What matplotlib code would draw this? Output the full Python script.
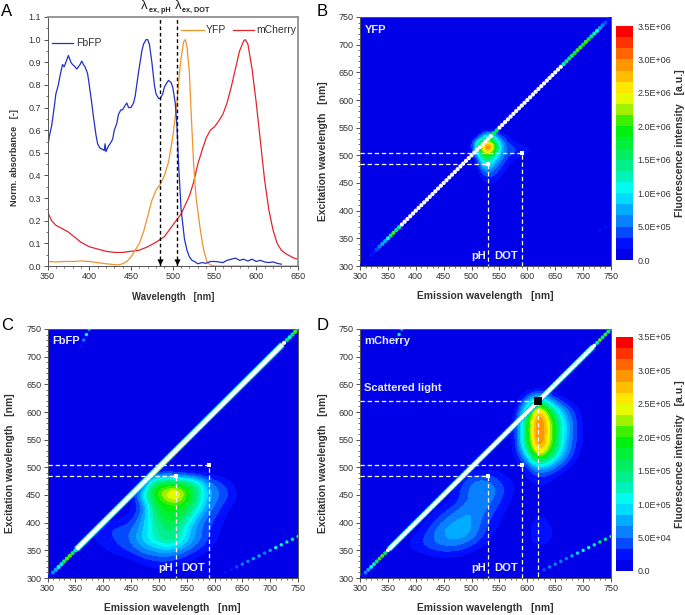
#!/usr/bin/env python
# -*- coding: utf-8 -*-
"""Absorbance spectra (A) and 2D fluorescence maps for YFP, FbFP, mCherry (B-D)."""

import numpy as np
import matplotlib
matplotlib.use('Agg')
import matplotlib.pyplot as plt
from matplotlib.colors import LinearSegmentedColormap, BoundaryNorm
from matplotlib.ticker import MultipleLocator

plt.rcParams.update({
    'font.family': ['Liberation Sans', 'DejaVu Sans'],
    'font.size': 6.5,
    'axes.linewidth': 0.7,
})

W, H = 685, 615
TXT = '#333333'

# Panel A: spectra
fbfp_wl = [350, 352, 355, 358, 360, 363, 365, 368, 370, 372, 375, 378, 380, 383, 385, 387, 389, 391, 393, 395,
           398, 400, 403, 405, 408, 410, 413, 416, 418, 419, 420, 423, 425, 428, 430, 433, 435, 438, 440, 443,
           445, 447, 450, 453, 455, 458, 460, 463, 465, 468, 470, 472, 475, 478, 480, 483, 485, 488, 490, 493,
           495, 498, 500, 503, 505, 507, 510, 514, 517, 520, 523, 526, 530, 535, 540, 545, 550, 555, 560, 565,
           570, 575, 580, 585, 590, 595, 600, 605, 610, 615, 620, 625, 630]
fbfp_abs = [.51, .57, .62, .70, .76, .80, .84, .89, .88, .90, .93, .90, .89, .88, .87, .88, .89, .905, .89, .88,
            .85, .80, .72, .66, .58, .54, .52, .515, .51, .54, .505, .53, .54, .56, .60, .63, .67, .69, .69, .71,
            .72, .70, .70, .72, .75, .83, .88, .95, .98, 1.0, 1.0, .98, .90, .80, .76, .74, .74, .76, .79, .81,
            .82, .81, .79, .72, .62, .45, .25, .12, .07, .04, .025, .02, .01, .015, .012, .02, .02, .018, .015, .025,
            .03, .035, .025, .03, .022, .03, .02, .025, .018, .015, .018, .012, .008]
yfp_wl = [350, 360, 370, 380, 390, 400, 410, 420, 430, 435, 440, 445, 450, 455, 460, 465, 470, 475, 480, 485,
          490, 495, 500, 505, 508, 510, 513, 515, 517, 520, 522, 525, 528, 533, 537, 541, 545, 550, 600, 650]
yfp_abs = [.02, .018, .02, .02, .022, .02, .015, .01, .006, .005, .01, .02, .04, .07, .10, .15, .22, .29, .335, .36,
           .40, .46, .57, .72, .85, .92, .99, 1.0, .97, .85, .68, .45, .30, .16, .07, .02, .005, 0, 0, 0]
mcherry_wl = [350, 355, 360, 365, 370, 375, 380, 385, 390, 395, 400, 410, 420, 430, 440, 450, 460, 470, 480, 490,
              500, 505, 510, 515, 520, 525, 530, 535, 540, 545, 550, 555, 560, 565, 570, 575, 580, 585, 587, 590,
              595, 600, 605, 610, 615, 620, 625, 630, 635, 640, 645, 650]
mcherry_abs = [.24, .20, .18, .17, .16, .15, .135, .12, .105, .095, .085, .075, .065, .06, .06, .065, .07, .085, .105, .13,
               .18, .205, .23, .27, .31, .37, .45, .51, .565, .60, .615, .64, .67, .72, .79, .87, .95, .995, 1.0, .98,
               .87, .72, .55, .38, .25, .16, .10, .07, .055, .045, .035, .03]

# Maps: values in colour bar units (1E+06 for B and C, 1E+05 for D)
yfp_em = [490, 500, 510, 520, 530, 540, 550, 560, 570, 580, 590, 600, 610, 620]
yfp_ex = [420, 430, 440, 450, 460, 470, 480, 490, 500, 510, 520, 530, 540, 550]
yfp_map = [
    [0, 0, 0, 0, 0, 0, 0, 0, 0, 0, 0, 0, 0, 0],
    [0, 0, 0, 0, .03, 0, 0, 0, 0, 0, 0, 0, 0, 0],
    [0, 0, 0, .05, .10, .08, 0, 0, 0, 0, 0, 0, 0, 0],
    [0, 0, 0, .12, .20, .15, .08, 0, 0, 0, 0, 0, 0, 0],
    [0, 0, 0, .25, .35, .30, .20, .08, 0, 0, 0, 0, 0, 0],
    [0, 0, .02, .50, .60, .45, .30, .15, .05, 0, 0, 0, 0, 0],
    [0, 0, .10, .90, 1.0, .70, .40, .25, .12, .05, 0, 0, 0, 0],
    [0, 0, .30, 1.3, 1.5, 1.0, .60, .35, .20, .12, .05, 0, 0, 0],
    [0, .10, .80, 1.8, 2.0, 1.5, .80, .45, .35, .30, .25, .15, .02, 0],
    [0, .20, 1.2, 2.6, 3.4, 2.4, 1.1, .55, .40, .35, .30, .25, .08, 0],
    [0, .20, 1.4, 2.4, 3.0, 2.2, 1.0, .50, .30, .20, .10, .03, 0, 0],
    [0, 0, .30, 1.0, 1.6, 1.2, .60, .30, .15, .03, 0, 0, 0, 0],
    [0, 0, 0, .30, .50, .40, .20, .10, 0, 0, 0, 0, 0, 0],
    [0, 0, 0, 0, 0, 0, 0, 0, 0, 0, 0, 0, 0, 0],
]
fbfp_em = [350, 370, 390, 410, 430, 450, 470, 490, 510, 530, 550, 570, 590, 610, 630, 650]
fbfp_ex = [290, 310, 330, 350, 370, 390, 410, 430, 450, 470, 490, 510]
fbfp_map = [
    [0, 0, 0, 0, 0, 0, 0, 0, 0, 0, 0, 0, 0, 0, 0, 0],
    [0, 0, 0, 0, 0, .03, .06, .08, .10, .08, .04, 0, 0, 0, 0, 0],
    [0, 0, 0, 0, .03, .10, .20, .30, .30, .25, .15, .05, 0, 0, 0, 0],
    [0, 0, .10, .20, .30, .40, .60, .70, .80, .70, .50, .30, .15, .03, 0, 0],
    [0, .10, .20, .30, .40, .55, .90, 1.25, 1.5, 1.5, .90, .60, .30, .10, 0, 0],
    [0, .05, .25, .35, .40, .50, .80, 1.2, 1.5, 1.5, .90, .55, .35, .15, .02, 0],
    [0, 0, 0, .05, .10, .20, .70, 1.4, 1.85, 1.85, 1.4, .70, .40, .25, .05, 0],
    [0, 0, 0, 0, .03, .12, .40, 1.6, 1.85, 1.85, 1.8, 1.2, .60, .35, .15, 0],
    [0, 0, 0, 0, 0, .05, 1.2, 1.9, 2.5, 3.0, 2.0, 1.4, .70, .50, .30, .05],
    [0, 0, 0, 0, 0, 0, .10, 1.85, 1.9, 1.9, 1.8, 1.3, .60, .40, .20, 0],
    [0, 0, 0, 0, 0, 0, .02, .10, .20, .15, .05, .05, .05, .03, 0, 0],
    [0, 0, 0, 0, 0, 0, 0, 0, 0, 0, 0, 0, 0, 0, 0, 0],
]
mch_em = [360, 380, 400, 420, 440, 460, 480, 500, 520, 540, 560, 580, 600, 620, 640, 660, 680, 700]
mch_ex = [320, 340, 360, 380, 400, 420, 440, 460, 480, 500, 520, 540, 560, 580, 600, 620, 640]
mch_map = [
    [0, 0, 0, 0, 0, 0, 0, 0, 0, 0, 0, 0, 0, 0, 0, 0, 0, 0],
    [0, .03, .08, .14, .20, .20, .15, .08, .03, 0, 0, 0, 0, 0, 0, 0, 0, 0],
    [0, .15, .30, .42, .55, .60, .55, .38, .20, .08, 0, 0, .08, .22, .12, 0, 0, 0],
    [0, .02, .15, .38, .62, .80, .85, .68, .38, .15, .03, 0, .08, .42, .25, .03, 0, 0],
    [0, 0, .03, .20, .45, .65, .75, .70, .45, .25, .08, 0, .08, .25, .15, 0, 0, 0],
    [0, 0, 0, .02, .20, .40, .60, .70, .55, .35, .15, .03, .05, .15, .08, 0, 0, 0],
    [0, 0, 0, 0, .02, .12, .35, .55, .65, .50, .25, .08, .04, .10, .04, 0, 0, 0],
    [0, 0, 0, 0, 0, .10, .35, .60, .75, .55, .35, .15, .06, .15, .10, 0, 0, 0],
    [0, 0, 0, 0, 0, 0, .20, .42, .48, .40, .20, .08, .12, .30, .20, .05, 0, 0],
    [0, 0, 0, 0, 0, 0, 0, 0, 0, .02, .02, .05, .30, .90, .70, .35, .10, 0],
    [0, 0, 0, 0, 0, 0, 0, 0, 0, 0, 0, .15, .95, 2.7, 1.7, .85, .35, .05],
    [0, 0, 0, 0, 0, 0, 0, 0, 0, 0, 0, .25, 1.8, 3.3, 2.4, 1.1, .45, .10],
    [0, 0, 0, 0, 0, 0, 0, 0, 0, 0, 0, .25, 1.9, 3.4, 2.4, 1.2, .50, .10],
    [0, 0, 0, 0, 0, 0, 0, 0, 0, 0, 0, .25, 1.9, 3.4, 2.4, 1.2, .50, .10],
    [0, 0, 0, 0, 0, 0, 0, 0, 0, 0, 0, .10, 1.4, 3.2, 1.8, .85, .40, .05],
    [0, 0, 0, 0, 0, 0, 0, 0, 0, 0, 0, 0, .60, 1.4, .60, .20, .05, 0],
    [0, 0, 0, 0, 0, 0, 0, 0, 0, 0, 0, 0, 0, 0, 0, 0, 0, 0],
]

# Diagonal (scattered light), 9 = off scale and drawn white
diag_wl = list(range(300, 755, 5))
yfp_diag = [0, 0, 0, 0, .2, .3, .4, .5, .7, .8, 1.1, 1.6, 2.0, 1.5, 1.2, 9, 9, 9, 9, 9, 9, 9, 9, 9, 9, 9, 9, 9, 9, 9,
            9, 9, 9, 9, 9, 9, 9, 9, 9, 9, 9, 9, 9, 9, 9, 9, 9, 9, 1.6, 1.7, 9, 9, 9, 9, 9, 9, 9, 9, 9, 9,
            9, 9, 9, 9, 9, 9, 9, 9, 9, 9, 9, 9, 9, 1.3, 1.4, 1.6, 1.6, 1.8, 2.0, 2.0, 1.9, 2.0, 1.8, 1.6, 1.2, 1.0, .7, .5, .4, .3, .2]
fbfp_diag = [0, .3, .5, .8, 1.0, 1.2, 1.6, 2.0, 2.0, 1.5, 1.2, 9, 9, 9, 9, 9, 9, 9, 9, 9, 9, 9, 9, 9, 9, 9, 9, 9, 9, 9,
             9, 9, 9, 9, 9, 9, 9, 9, 9, 9, 9, 9, 9, 9, 9, 9, 9, 9, 9, 9, 9, 9, 9, 9, 9, 9, 9, 9, 9, 9,
             9, 9, 9, 9, 9, 9, 9, 9, 9, 9, 9, 9, 9, 9, 9, 9, 9, 9, 9, 9, 9, 9, 9, 9, 1.2, 9, 1.5, 1.1, 1.6, 2.0, .8]
mch_diag = [0, .3, .5, .8, 1.0, 1.2, 1.6, 2.0, 2.0, 1.5, 9, 9, 9, 9, 9, 9, 9, 9, 9, 9, 9, 9, 9, 9, 9, 9, 9, 9, 9, 9,
            9, 9, 9, 9, 9, 9, 9, 9, 9, 9, 9, 9, 9, 9, 9, 9, 9, 9, 9, 9, 9, 9, 9, 9, 9, 9, 9, 9, 9, 9,
            9, 9, 9, 9, 9, 9, 9, 9, 9, 9, 9, 9, 9, 9, 9, 9, 9, 9, 9, 9, 9, 9, 9, 9, 9, 1.3, 2.0, 1.6, 2.0, 1.5, .8]
# Solid white stretch of the diagonal and its green part (start, end)
fbfp_core = [352, 722]
fbfp_green = [485, 548]
mch_core = [352, 718]
mch_green = [445, 502]

# Second order lines
order2_em = [620, 630, 640, 650, 660, 670, 680, 690, 700, 710, 720, 730, 740, 750]
order2_ex = [310, 315, 320, 325, 330, 335, 340, 345, 350, 355, 360, 365, 370, 375]
fbfp_o2 = [.2, .3, .4, .5, .6, .7, .8, .6, .8, 1.0, 1.1, 1.2, 1.4, 1.5]
mch_o2 = [.2, .4, .5, .6, .5, .6, .7, .9, 1.0, 1.1, 1.3, 1.5, 1.4, 1.6]
yfp_o2 = [0, 0, 0, 0, 0, 0, 0, 0, 0, .1, .15, .2, .25, .25]
upper_em = [360, 365, 370, 375]
upper_ex = [720, 730, 740, 750]
upper_vals = [.3, .6, 1.0, 1.4]

cbar_ticks = [0, .5, 1, 1.5, 2, 2.5, 3, 3.5]
n_levels = 21


def px_axes(left, top, right, bottom):
    return plt.axes([left / W, 1 - bottom / H, (right - left) / W, (bottom - top) / H])


# colormap of the maps: blue, cyan, green, yellow, red
cmap = LinearSegmentedColormap.from_list('origin_rainbow', [
    (0, '#0000e8'), (0.05, '#0010ff'), (0.14, '#0a78ff'), (0.21, '#00b4ff'), (0.286, '#00ffff'),
    (0.36, '#00f0b0'), (0.43, '#00ee70'), (0.57, '#00f000'), (0.65, '#a0f000'), (0.72, '#ffff00'),
    (0.857, '#ff9000'), (1, '#ff0000')], N=n_levels)
cmap.set_over('white')
cmap.set_under('#0000e8')
norm = BoundaryNorm(np.linspace(0, 3.5, n_levels + 1), cmap.N, extend='neither', clip=False)


def draw_map(ax, em, ex, grid, diag, o2, dsize, core=None, green=None, core_lw=2.8, upper=True):
    em = np.array(em)
    ex = np.array(ex)
    de = em[1] - em[0]
    dx = ex[1] - ex[0]
    ax.set_facecolor('#0000e8')
    im = ax.imshow(np.array(grid), origin='lower', cmap=cmap, norm=norm, aspect='auto',
                   interpolation='bicubic', interpolation_stage='data',
                   extent=[em[0] - de / 2, em[-1] + de / 2, ex[0] - dx / 2, ex[-1] + dx / 2], zorder=1)
    if core:
        ax.plot(core, core, color='#10a0ff', lw=core_lw + 1.8, zorder=2, solid_capstyle='butt')
        ax.plot(core, core, color='#00ffe0', lw=core_lw + 1.0, zorder=2, solid_capstyle='butt')
        ax.plot(green, green, color='#30f040', lw=core_lw + 1.2, zorder=2, solid_capstyle='butt')
    ax.scatter(diag_wl, diag_wl, c=diag, cmap=cmap, norm=norm, s=dsize, marker='o', linewidths=0, zorder=3)
    if core:
        ax.plot(core, core, color='white', lw=core_lw, zorder=3, solid_capstyle='butt')
    ax.scatter(order2_em, order2_ex, c=o2, cmap=cmap, norm=norm, s=6, marker='o', linewidths=0, zorder=3)
    if upper:
        ax.scatter(upper_em, upper_ex, c=upper_vals, cmap=cmap, norm=norm, s=6, marker='o', linewidths=0, zorder=3)
    ax.set_xlim(300, 750)
    ax.set_ylim(300, 750)
    ax.set_xticks(np.arange(300, 751, 50))
    ax.set_yticks(np.arange(300, 751, 50))
    ax.xaxis.set_minor_locator(MultipleLocator(10))
    ax.yaxis.set_minor_locator(MultipleLocator(10))
    ax.tick_params(which='major', length=3, width=0.6, colors=TXT, pad=1.5)
    ax.tick_params(which='minor', length=1.5, width=0.5, colors=TXT)
    for s in ax.spines.values():
        s.set_color('#555555')
    ax.set_xlabel('Emission wavelength   [nm]', fontsize=7.4, fontweight='bold', color=TXT, labelpad=7)
    ax.set_ylabel('Excitation wavelength   [nm]', fontsize=7.4, fontweight='bold', color=TXT, labelpad=8, y=0.46)
    return im


def guides(ax, color='white'):
    dash = dict(color='white', lw=0.9, ls=(0, (3.5, 2.2)), zorder=4)
    ax.plot([300, 590, 590], [505, 505, 300], **dash)
    ax.plot([300, 530, 530], [485, 485, 300], **dash)
    ax.scatter([590, 530], [505, 485], c='white', s=11, marker='s', linewidths=0, zorder=5)
    lab = dict(color='#e8ecff', fontsize=8, fontweight='bold', va='center', zorder=6)
    ax.text(526, 318, 'pH', ha='right', **lab)
    ax.text(540, 318, 'DOT', ha='left', **lab)


def add_cbar(im, left, top, right, bottom, unit):
    cax = px_axes(left, top, right, bottom)
    cb = plt.colorbar(im, cax=cax, ticks=cbar_ticks, spacing='uniform', drawedges=False)
    cb.outline.set_visible(False)
    cax.set_yticklabels(['0.0'] + [f'{t:.1f}E+0{unit}' if t >= 1 else f'{t * 10:.1f}E+0{unit - 1}'
                                   for t in cbar_ticks[1:]])
    cax.tick_params(which='both', length=0, pad=3, labelsize=6.5, colors=TXT)
    cax.minorticks_off()
    cax.set_ylabel('Fluorescence intensity   [a.u.]', fontsize=7.6, fontweight='bold', color=TXT, labelpad=3)


fig = plt.figure(figsize=(W / 100, H / 100), dpi=100)

# ---- A: absorbance spectra ----
ax = px_axes(47.5, 17, 298, 266)
ax.plot(mcherry_wl, mcherry_abs, color='#e0262c', lw=0.9)
ax.plot(yfp_wl, yfp_abs, color='#f0932b', lw=0.9)
ax.plot(fbfp_wl, fbfp_abs, color='#2030c8', lw=0.9)
for wl in (485, 505):
    ax.plot([wl, wl], [0, 1.1], color='black', lw=1.0, ls=(0, (2.6, 2)), zorder=4)
ax.scatter([485, 505], [0.017, 0.017], c='black', s=20, marker='v', linewidths=0, zorder=5)
ax.set_xlim(350, 650)
ax.set_ylim(0, 1.1)
ax.set_xticks(np.arange(350, 651, 50))
ax.set_yticks(np.arange(0, 1.11, 0.1))
ax.xaxis.set_minor_locator(MultipleLocator(10))
ax.yaxis.set_minor_locator(MultipleLocator(0.05))
ax.tick_params(which='major', length=3, width=0.6, colors=TXT, pad=1.5)
ax.tick_params(which='minor', length=1.5, width=0.5, colors=TXT)
for side in ('top', 'right'):
    ax.spines[side].set_color('#909090')
    ax.spines[side].set_linewidth(1.3)
for side in ('left', 'bottom'):
    ax.spines[side].set_color('#555555')
ax.set_xlabel('Wavelength   [nm]', fontsize=6.9, fontweight='bold', color=TXT, labelpad=8)
ax.set_ylabel('Norm. absorbance   [-]', fontsize=6.6, fontweight='bold', color=TXT, labelpad=7, y=0.434)
ax.plot([355, 381], [0.985, 0.985], color='#2030c8', lw=0.9)
ax.text(384, 0.985, 'FbFP', fontsize=7.5, color=TXT, va='center')
ax.plot([510, 537], [1.043, 1.043], color='#f0932b', lw=0.9)
ax.text(540, 1.043, 'YFP', fontsize=7.5, color=TXT, va='center')
ax.plot([572, 597], [1.043, 1.043], color='#e0262c', lw=0.9)
ax.text(600, 1.043, 'mCherry', fontsize=7.5, color=TXT, va='center')
fig.text(141 / W, 1 - 12 / H, 'λ', fontsize=9.5, color='#222222', va='bottom')
fig.text(149 / W, 1 - 14 / H, 'ex, pH', fontsize=5.2, fontweight='bold', color='#222222', va='bottom')
fig.text(174.5 / W, 1 - 12 / H, 'λ', fontsize=9.5, color='#222222', va='bottom')
fig.text(182 / W, 1 - 14 / H, 'ex, DOT', fontsize=5.2, fontweight='bold', color='#222222', va='bottom')

# ---- B: YFP ----
ax = px_axes(360, 17, 611, 266)
im = draw_map(ax, yfp_em, yfp_ex, yfp_map, yfp_diag, yfp_o2, 9, upper=False)
guides(ax)
ax.text(308, 727, 'YFP', color='#e8ecff', fontsize=8, fontweight='bold', va='center', zorder=6)
add_cbar(im, 616, 26, 633, 260, 6)

# ---- C: FbFP ----
ax = px_axes(47.5, 329, 298, 578)
draw_map(ax, fbfp_em, fbfp_ex, fbfp_map, fbfp_diag, fbfp_o2, 9, fbfp_core, fbfp_green, core_lw=2.8)
guides(ax)
ax.text(308, 729, 'FbFP', color='#e8ecff', fontsize=8, fontweight='bold', va='center', zorder=6)

# ---- D: mCherry ----
ax = px_axes(360, 329, 611, 578)
im = draw_map(ax, mch_em, mch_ex, mch_map, mch_diag, mch_o2, 8, mch_core, mch_green, core_lw=2.3)
guides(ax)
ax.plot([300, 620, 620], [620, 620, 300], color='white', lw=0.9, ls=(0, (3.5, 2.2)), zorder=4)
ax.scatter([620], [620], c='black', s=30, marker='s', linewidths=0, zorder=5)
ax.text(308, 643, 'Scattered light', color='#e8ecff', fontsize=8, fontweight='bold', va='center', zorder=6)
ax.text(308, 729, 'mCherry', color='#e8ecff', fontsize=8, fontweight='bold', va='center', zorder=6)
add_cbar(im, 616, 337, 633, 571, 5)

# panel letters
for letter, x, y in (('A', 1, 11), ('B', 317, 11), ('C', 1, 325), ('D', 317, 325)):
    fig.text(x / W, 1 - y / H, letter, fontsize=12, color='black', va='center')

fig.savefig('out.png', dpi=100)
